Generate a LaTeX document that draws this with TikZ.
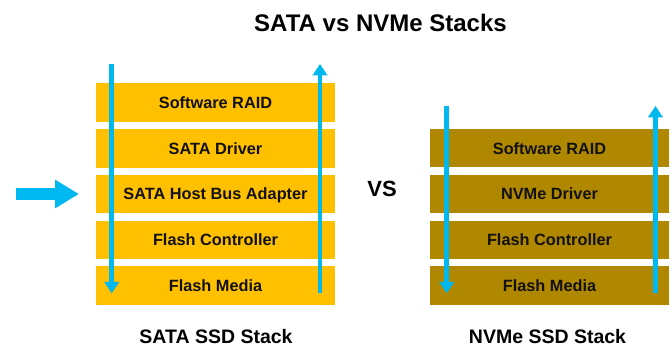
\documentclass[tikz,border=0pt]{standalone}
\usepackage{fontspec}
\setmainfont{Liberation Sans}
\usepackage{xcolor}
\usetikzlibrary{arrows.meta,positioning}
\definecolor{sataGold}{HTML}{FFC000}
\definecolor{nvmeGold}{HTML}{B08800}
\definecolor{flowBlue}{HTML}{00B8F0}
\definecolor{labelInk}{HTML}{111111}

\tikzset{
  layer/.style={fill=#1, minimum width=239pt, minimum height=38.5pt, inner sep=0pt,
    text height=11.7pt, text depth=0pt, text=labelInk,
    font=\bfseries\fontsize{16.3}{19}\selectfont},
  flow/.style={flowBlue, line width=4.7pt, -{Triangle[width=14.5pt,length=11.5pt]}},
  caption/.style={anchor=base, text=black, font=\bfseries\fontsize{#1}{#1}\selectfont},
}

\begin{document}
\begin{tikzpicture}[x=1pt,y=-1pt]
    \useasboundingbox (0,0) rectangle (672,347);

    % Title
    \node[caption=24] (title) at (380.5,32) {SATA vs NVMe Stacks};

    % SATA stack
    \node[layer=sataGold] (sraid) at (215.5,102.5) {Software RAID};
    \node[layer=sataGold, below=6.9pt of sraid] (sdriver) {SATA Driver};
    \node[layer=sataGold, below=6.9pt of sdriver] (shba) {SATA Host Bus Adapter};
    \node[layer=sataGold, below=6.9pt of shba] (sctrl) {Flash Controller};
    \node[layer=sataGold, below=6.9pt of sctrl] (smedia) {Flash Media};

    % NVMe stack
    \node[layer=nvmeGold] (nraid) at (549.5,148.2) {Software RAID};
    \node[layer=nvmeGold, below=6.9pt of nraid] (ndriver) {NVMe Driver};
    \node[layer=nvmeGold, below=6.9pt of ndriver] (nctrl) {Flash Controller};
    \node[layer=nvmeGold, below=6.9pt of nctrl] (nmedia) {Flash Media};

    % Request / response paths
    \coordinate (sdown-top) at (111.7,64);
    \coordinate (sdown-end) at (111.7,293.3);
    \coordinate (sup-start) at (320,293.3);
    \coordinate (sup-top) at (320,64);
    \coordinate (ndown-top) at (446.7,105.7);
    \coordinate (ndown-end) at (446.7,293.3);
    \coordinate (nup-start) at (655.5,293.3);
    \coordinate (nup-top) at (655.5,106);
    \draw[flow] (sdown-top) -- (sdown-end);
    \draw[flow] (sup-start) -- (sup-top);
    \draw[flow] (ndown-top) -- (ndown-end);
    \draw[flow] (nup-start) -- (nup-top);

    % Pointer to the host bus adapter
    \coordinate (hba-tail) at (16,194);
    \coordinate (hba-tip) at (79,194);
    \draw[flowBlue, line width=12pt, -{Triangle[width=27pt,length=24pt]}] (hba-tail) -- (hba-tip);

    % VS and stack names
    \node[caption=22] (vs) at (382,196.7) {VS};
    \node[caption=19.5] (satacap) at (216,343.5) {SATA SSD Stack};
    \node[caption=19.5] (nvmecap) at (547.5,343.5) {NVMe SSD Stack};

\end{tikzpicture}
\end{document}
